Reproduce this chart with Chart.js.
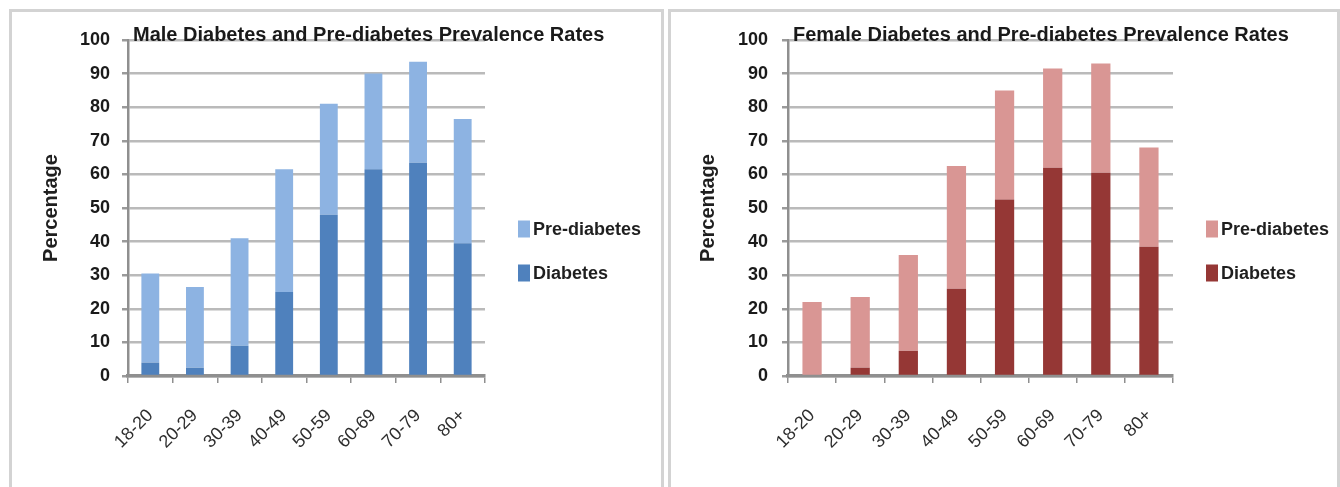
<!DOCTYPE html>
<html>
<head>
<meta charset="utf-8">
<title>Diabetes and Pre-diabetes Prevalence Rates</title>
<script src="https://cdn.jsdelivr.net/npm/chart.js@4.4.1/dist/chart.umd.min.js"></script>
<style>
  html, body { margin: 0; padding: 0; background: #fff; width: 1340px; height: 487px; overflow: hidden; }
  .panel { position: absolute; top: 9px; height: 490px; box-sizing: border-box; border: 3px solid #d3d3d3; background: #fff; }
  #malePanel { left: 9px; width: 655px; }
  #femalePanel { left: 668px; width: 672px; }
  .panel canvas { display: block; }
</style>
</head>
<body>
<div class="panel" id="malePanel"><canvas id="maleChart" width="649" height="484"></canvas></div>
<div class="panel" id="femalePanel"><canvas id="femaleChart" width="666" height="484"></canvas></div>

<script>
// ===== DATA =====
const ageGroups = ['18-20', '20-29', '30-39', '40-49', '50-59', '60-69', '70-79', '80+'];

const maleDiabetes    = [4, 2.5, 9, 25, 48, 61.5, 63.5, 39.5];
const malePreDiabetes = [26.5, 24, 32, 36.5, 33, 28.5, 30, 37];

const femaleDiabetes    = [0, 2.5, 7.5, 26, 52.5, 62, 60.5, 38.5];
const femalePreDiabetes = [22, 21, 28.5, 36.5, 32.5, 29.5, 32.5, 29.5];

const yMin = 0;
const yMax = 100;
const yStep = 10;

const FONT = "'Liberation Sans', Arial, sans-serif";

// ===== PLUGINS =====
// title sits on the top gridline, left aligned to the plot like the Excel original
const chartTitle = {
    id: 'chartTitle',
    afterDraw(chart, args, opts) {
        const { ctx, chartArea } = chart;
        ctx.save();
        ctx.font = `bold ${opts.size}px ${FONT}`;
        ctx.fillStyle = '#1a1a1a';
        ctx.textAlign = 'left';
        ctx.textBaseline = 'alphabetic';
        ctx.fillText(opts.text, chartArea.left + opts.dx, chartArea.top + 1);
        ctx.restore();
    }
};

// legend to the right of the plot, top item = last dataset
const sideLegend = {
    id: 'sideLegend',
    afterDraw(chart, args, opts) {
        const { ctx, chartArea } = chart;
        const items = chart.data.datasets.slice().reverse();
        const midY = (chartArea.top + chartArea.bottom) / 2;
        ctx.save();
        ctx.font = `bold ${opts.size}px ${FONT}`;
        ctx.textAlign = 'left';
        ctx.textBaseline = 'middle';
        items.forEach((ds, i) => {
            const y = midY + opts.firstY + i * opts.gap;
            const x = chartArea.right + opts.dx;
            ctx.fillStyle = ds.backgroundColor;
            ctx.fillRect(x, y - 8.5, 12, 17);
            ctx.fillStyle = '#1f1f1f';
            ctx.fillText(ds.label, x + 15, y + 1);
        });
        ctx.restore();
    }
};

// ===== CHART BUILDER =====
function makeChart(canvasId, diabetes, preDiabetes, colors, titleText, g) {
    const ctx = document.getElementById(canvasId);
    return new Chart(ctx, {
        type: 'bar',
        data: {
            labels: ageGroups,
            datasets: [
                {
                    label: 'Diabetes',
                    data: diabetes,
                    backgroundColor: colors.diabetes,
                    borderWidth: 0,
                    barPercentage: 0.4,
                    categoryPercentage: 1.0
                },
                {
                    label: 'Pre-diabetes',
                    data: preDiabetes,
                    backgroundColor: colors.pre,
                    borderWidth: 0,
                    barPercentage: 0.4,
                    categoryPercentage: 1.0
                }
            ]
        },
        options: {
            responsive: false,
            animation: false,
            layout: { padding: { left: 0, top: 28, right: g.padRight, bottom: 0 } },
            scales: {
                x: {
                    stacked: true,
                    offset: true,
                    ticks: {
                        minRotation: 45,
                        maxRotation: 45,
                        autoSkip: false,
                        padding: 22,
                        color: '#2e2e2e',
                        font: { family: FONT, size: 18 }
                    },
                    grid: { drawOnChartArea: false, drawTicks: true, tickLength: 7, color: '#8f8f8f', lineWidth: 1.5 },
                    border: { display: true, color: '#8f8f8f', width: 3.5 },
                    afterFit(scale) { scale.height = 120; }
                },
                y: {
                    stacked: true,
                    min: yMin,
                    max: yMax,
                    ticks: {
                        stepSize: yStep,
                        padding: g.tickPad,
                        color: '#1a1a1a',
                        font: { family: FONT, size: 18, weight: 'bold' }
                    },
                    grid: { color: '#bababa', lineWidth: 2.5, tickLength: 6, tickColor: '#9a9a9a' },
                    border: { display: true, color: '#8f8f8f', width: 2.5 },
                    title: {
                        display: true,
                        text: 'Percentage',
                        color: '#1f1f1f',
                        font: { family: FONT, size: 20, weight: 'bold' },
                        padding: { top: g.titlePad, bottom: 0 }
                    },
                    afterFit(scale) { scale.width = g.axisWidth; }
                }
            },
            plugins: {
                legend: { display: false },
                tooltip: { enabled: false },
                chartTitle: { text: titleText, size: 20, dx: 5 },
                sideLegend: { size: 18, dx: 33, firstY: 21, gap: 44 }
            }
        },
        plugins: [chartTitle, sideLegend]
    });
}

makeChart('maleChart', maleDiabetes, malePreDiabetes,
    { diabetes: '#4f81bd', pre: '#8db3e2' },
    'Male Diabetes and Pre-diabetes Prevalence Rates',
    { axisWidth: 116, tickPad: 12, titlePad: 27, padRight: 176 });

makeChart('femaleChart', femaleDiabetes, femalePreDiabetes,
    { diabetes: '#953735', pre: '#d99694' },
    'Female Diabetes and Pre-diabetes Prevalence Rates',
    { axisWidth: 117, tickPad: 14, titlePad: 25, padRight: 164 });
</script>
</body>
</html>
